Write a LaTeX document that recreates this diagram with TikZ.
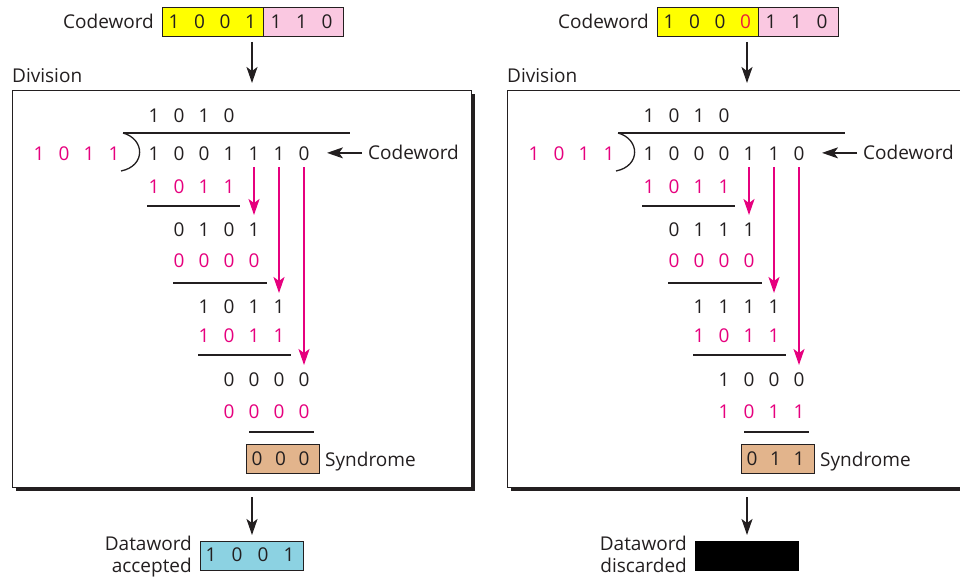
\documentclass[tikz,border=0pt]{standalone}
\usepackage{fontspec}
\setmainfont{Open Sans}
\usetikzlibrary{arrows.meta,shadows}

\definecolor{ink}{RGB}{35,31,32}
\definecolor{mag}{RGB}{230,0,126}
\definecolor{errred}{RGB}{235,30,60}
\definecolor{cwyellow}{RGB}{255,255,0}
\definecolor{cwpink}{RGB}{250,200,225}
\definecolor{syntan}{RGB}{226,180,140}
\definecolor{dwblue}{RGB}{140,210,226}

\newcommand\digfont{\fontsize{19}{22}\selectfont}

% a row of single digits: name prefix, first x, step, y, colour, digits
\newcommand\digitrow[6]{%
  \foreach \d [count=\i] in {#6}
    \node[dig,text=#5] (#1-\i) at ({#2+#3*(\i-1)},#4) {\d};}

% one checker: prefix, codeword data bits, dividend, three remainders,
% two lower subtrahends, syndrome
\newcommand\divpanel[9]{%
  % received codeword
  \node[cell, fill=cwyellow, minimum width=101pt] (#1cwa) at (162,7) {};
  \node[cell, fill=cwpink, minimum width=80pt] (#1cwb) at (263,7) {};
  \digitrow{#1c}{174}{25.5}{21.5}{ink}{#2,1,1,0}
  \node[lbl] (#1cwl) at (63,29) {Codeword};
  \coordinate (#1in0) at (252,42);
  \coordinate (#1in1) at (252,83);
  \draw[arr] (#1in0) -- (#1in1);
  % division frame
  \node[lbl] (#1div) at (12,83) {Division};
  \node[divframe] (#1box) at (12,90) {};
  % long division
  \digitrow{#1q}{154}{25}{116}{ink}{1,0,1,0}
  \draw[rule] (123,133) -- (350,133);
  \draw[rule] (123,133) .. controls (145,139) and (146,166) .. (121,171);
  \digitrow{#1v}{39}{25}{154}{mag}{1,0,1,1}
  \digitrow{#1d}{154}{25}{154}{ink}{#3}
  \node[lbl] (#1dl) at (368,160) {Codeword};
  \draw[arr] ([xshift=-6pt]#1dl.west) -- ([xshift=-41pt]#1dl.west);
  \digitrow{#1m1}{154}{25}{187}{mag}{1,0,1,1}
  \draw[rule] (147,206) -- (240,206);
  \digitrow{#1r1}{179}{25}{230}{ink}{#4}
  \digitrow{#1m2}{179}{25}{261}{mag}{0,0,0,0}
  \draw[rule] (173,283) -- (267,283);
  \digitrow{#1r2}{204}{25}{307}{ink}{#5}
  \digitrow{#1m3}{204}{25}{336}{mag}{#7}
  \draw[rule] (198,355) -- (291,355);
  \digitrow{#1r3}{229}{25}{380}{ink}{#6}
  \digitrow{#1m4}{229}{25}{412}{mag}{#8}
  \draw[rule] (249,432) -- (314,432);
  % bits brought down
  \draw[marr] ([yshift=-6pt]#1d-5.south) -- (#1d-5 |- 0,215);
  \draw[marr] ([yshift=-6pt]#1d-6.south) -- (#1d-6 |- 0,293);
  \draw[marr] ([yshift=-6pt]#1d-7.south) -- (#1d-7 |- 0,365);
  % syndrome
  \node[cell, fill=syntan, minimum width=73pt] (#1syn) at (246,444) {};
  \digitrow{#1s}{257}{23.5}{459}{ink}{#9}
  \node[lbl] (#1sl) at (325,466) {Syndrome};
  % decision
  \coordinate (#1out0) at (252,497);
  \coordinate (#1out1) at (252,535);
  \draw[arr] (#1out0) -- (#1out1);
}

\tikzset{
  dig/.style={inner sep=0pt, font=\digfont},
  lbl/.style={inner sep=0pt, anchor=base west, font=\digfont, text=ink},
  cell/.style={draw=ink, line width=1pt, minimum height=29pt, inner sep=0pt,
    anchor=north west},
  divframe/.style={draw=ink, line width=1.2pt, fill=white, inner sep=0pt,
    minimum width=459pt, minimum height=397pt, anchor=north west,
    drop shadow={shadow xshift=3.5pt, shadow yshift=-3.5pt, fill=ink, opacity=1}},
  rule/.style={draw=ink, line width=1.3pt},
  arr/.style={draw=ink, line width=1.6pt,
    -{Stealth[length=16pt,width=11pt,inset=4pt]}},
  marr/.style={draw=mag, line width=1.8pt,
    -{Stealth[length=16pt,width=11pt,inset=4pt]}},
}

\begin{document}
\begin{tikzpicture}[x=1pt,y=-1pt]
  \useasboundingbox[fill=white] (0,0) rectangle (960,577);

  % codeword without error
  \begin{scope}
    \divpanel{L}{1,0,0,1}{1,0,0,1,1,1,0}{0,1,0,1}{1,0,1,1}{0,0,0,0}%
      {1,0,1,1}{0,0,0,0}{0,0,0}
    \node[cell, fill=dwblue, minimum width=103pt] (Ldw) at (200,541) {};
    \digitrow{Lw}{211}{26}{555}{ink}{1,0,0,1}
    \node[lbl, anchor=base east] (Ldl1) at (192,550) {Dataword};
    \node[lbl, anchor=base east] (Ldl2) at (192,572) {accepted};
  \end{scope}

  % codeword with one corrupted bit
  \begin{scope}[xshift=495pt]
    \divpanel{R}{1,0,0,{\textcolor{errred}{0}}}{1,0,0,0,1,1,0}{0,1,1,1}%
      {1,1,1,1}{1,0,0,0}{1,0,1,1}{1,0,1,1}{0,1,1}
    \node[cell, fill=black, draw=black, minimum width=103pt] (Rdw) at (200,541) {};
    \node[lbl, anchor=base east] (Rdl1) at (192,550) {Dataword};
    \node[lbl, anchor=base east] (Rdl2) at (192,572) {discarded};
  \end{scope}
\end{tikzpicture}
\end{document}
